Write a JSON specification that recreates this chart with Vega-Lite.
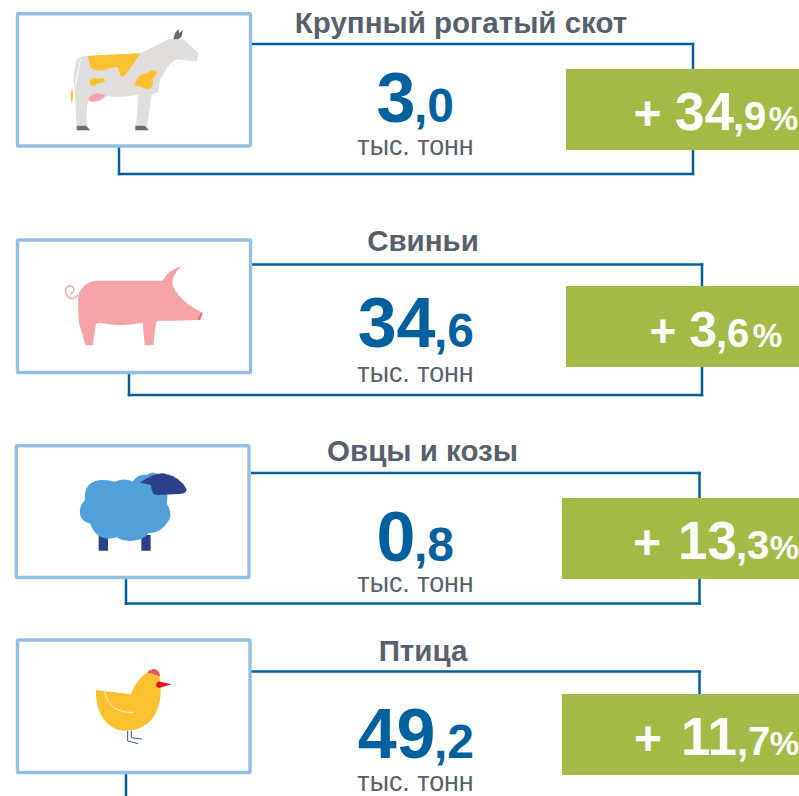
{"$schema":"https://vega.github.io/schema/vega-lite/v6.json","width":799,"height":796,"padding":0,"autosize":{"type":"none"},"background":"#ffffff","config":{"view":{"stroke":null},"axis":{"disable":true},"text":{"baseline":"alphabetic","font":"Liberation Sans"}},
"data":{"values":[
{"category":"Крупный рогатый скот","tonnes":3.0,"change":34.9,"whole":"3","frac":",0","unit":"тыс. тонн","sign":"+","chWhole":"34","chFrac":",9","pct":"%"},
{"category":"Свиньи","tonnes":34.6,"change":3.6,"whole":"34","frac":",6","unit":"тыс. тонн","sign":"+","chWhole":"3","chFrac":",6","pct":"%"},
{"category":"Овцы и козы","tonnes":0.8,"change":13.3,"whole":"0","frac":",8","unit":"тыс. тонн","sign":"+","chWhole":"13","chFrac":",3","pct":"%"},
{"category":"Птица","tonnes":49.2,"change":11.7,"whole":"49","frac":",2","unit":"тыс. тонн","sign":"+","chWhole":"11","chFrac":",7","pct":"%"}]},
"layer":[
{"mark":{"type":"rule","opacity":0},"encoding":{"x":{"datum":0,"type":"quantitative","scale":{"domain":[0,799],"nice":false,"zero":false}},"y":{"datum":0,"type":"quantitative","scale":{"domain":[0,796],"nice":false,"zero":false,"reverse":true}}}},
{"transform":[{"filter":"datum.category==='Крупный рогатый скот'"}],"layer":[
{"mark":{"type":"rule","color":"#00619E","strokeWidth":2.5,"strokeCap":"square"},"encoding":{"x":{"datum":252},"x2":{"datum":693},"y":{"datum":44}}},
{"mark":{"type":"rule","color":"#00619E","strokeWidth":2.5,"strokeCap":"square"},"encoding":{"x":{"datum":693},"y":{"datum":44},"y2":{"datum":174}}},
{"mark":{"type":"rule","color":"#00619E","strokeWidth":2.5,"strokeCap":"square"},"encoding":{"x":{"datum":119},"x2":{"datum":693},"y":{"datum":174}}},
{"mark":{"type":"rule","color":"#00619E","strokeWidth":2.5,"strokeCap":"square"},"encoding":{"x":{"datum":119},"y":{"datum":148},"y2":{"datum":174}}},
{"mark":{"type":"rect","fill":"#ffffff","stroke":"#95BEE3","strokeWidth":3.4,"cornerRadius":1},"encoding":{"x":{"datum":17.5},"x2":{"datum":250.5},"y":{"datum":13.7},"y2":{"datum":146}}},
{"mark":{"type":"rect","fill":"#A3BA47"},"encoding":{"x":{"datum":566},"x2":{"datum":799},"y":{"datum":69},"y2":{"datum":150}}},
{"mark":{"type":"point","filled":true,"fill":"#DFDEDC","opacity":1,"strokeWidth":0,"size":0.4444,"shape":"M200,165 Q205,153 235,152 L392,145 L475,103 L490,103 L520,103 L565,145 L560,170 L500,163 Q480,175 470,190 L450,225 L445,262 L425,268 L412,362 L378,362 L385,270 Q310,280 290,272 L240,270 L232,300 L228,362 L200,362 L195,270 L190,210 Z"},"encoding":{"x":{"datum":10},"y":{"datum":5}}},
{"mark":{"type":"point","filled":true,"fill":"#FDC02F","opacity":1,"strokeWidth":0,"size":0.4444,"shape":"M234,153 L392,145 L350,205 Q340,218 332,215 L325,190 Q310,182 285,195 Q250,200 240,185 Z M240,225 Q250,215 262,222 Q280,215 286,225 Q282,235 262,236 Q250,248 240,240 Z M372,240 Q385,205 410,205 Q430,190 441,200 Q440,212 428,222 Q432,245 415,254 Q395,245 372,240 Z M186,250 Q192,265 186,297 Q178,280 186,250 Z"},"encoding":{"x":{"datum":10},"y":{"datum":5}}},
{"mark":{"type":"point","filled":true,"fill":"#F4A5AC","opacity":1,"strokeWidth":0,"size":0.4444,"shape":"M234,285 Q240,265 262,265 Q280,268 288,272 Q270,292 245,290 Z"},"encoding":{"x":{"datum":10},"y":{"datum":5}}},
{"mark":{"type":"point","filled":true,"fill":"#6A6A68","opacity":1,"strokeWidth":0,"size":0.4444,"shape":"M200,362 L228,362 L241,376 L200,376 Z M376,362 L405,362 L417,376 L376,376 Z M490,103 L495,85 L505,72 L508,84 L518,75 L515,95 L505,103 Z"},"encoding":{"x":{"datum":10},"y":{"datum":5}}},
{"mark":{"type":"point","filled":false,"fill":"transparent","stroke":"#ffffff","opacity":1,"strokeWidth":1,"size":0.4444,"shape":"M212,162 L195,245"},"encoding":{"x":{"datum":10},"y":{"datum":5}}},
{"mark":{"type":"text","fontWeight":"bold","fontSize":29.5,"color":"#58606B"},"encoding":{"x":{"datum":461},"y":{"datum":33},"text":{"field":"category"}}},
{"mark":{"type":"text","fontWeight":"bold","fontSize":70,"color":"#00619E","align":"right"},"encoding":{"x":{"datum":415.5},"y":{"datum":122},"text":{"field":"whole"}}},
{"mark":{"type":"text","fontWeight":"bold","fontSize":48,"color":"#00619E","align":"left"},"encoding":{"x":{"datum":414},"y":{"datum":122},"text":{"field":"frac"}}},
{"mark":{"type":"text","fontSize":26.8,"color":"#58606B"},"encoding":{"x":{"datum":415.5},"y":{"datum":155},"text":{"field":"unit"}}},
{"mark":{"type":"text","fontWeight":"bold","fontSize":48,"color":"#ffffff","align":"center"},"encoding":{"x":{"datum":647.5},"y":{"datum":130},"text":{"field":"sign"}}},
{"mark":{"type":"text","fontWeight":"bold","fontSize":53,"color":"#ffffff","align":"right"},"encoding":{"x":{"datum":734},"y":{"datum":130},"text":{"field":"chWhole"}}},
{"mark":{"type":"text","fontWeight":"bold","fontSize":40,"color":"#ffffff","align":"left"},"encoding":{"x":{"datum":733},"y":{"datum":130},"text":{"field":"chFrac"}}},
{"mark":{"type":"text","fontWeight":"bold","fontSize":33,"color":"#ffffff","align":"right"},"encoding":{"x":{"datum":798},"y":{"datum":130},"text":{"field":"pct"}}}
]},
{"transform":[{"filter":"datum.category==='Свиньи'"}],"layer":[
{"mark":{"type":"rule","color":"#00619E","strokeWidth":2.5,"strokeCap":"square"},"encoding":{"x":{"datum":252},"x2":{"datum":702},"y":{"datum":264.5}}},
{"mark":{"type":"rule","color":"#00619E","strokeWidth":2.5,"strokeCap":"square"},"encoding":{"x":{"datum":702},"y":{"datum":264.5},"y2":{"datum":395}}},
{"mark":{"type":"rule","color":"#00619E","strokeWidth":2.5,"strokeCap":"square"},"encoding":{"x":{"datum":129},"x2":{"datum":702},"y":{"datum":395}}},
{"mark":{"type":"rule","color":"#00619E","strokeWidth":2.5,"strokeCap":"square"},"encoding":{"x":{"datum":129},"y":{"datum":374},"y2":{"datum":395}}},
{"mark":{"type":"rect","fill":"#ffffff","stroke":"#95BEE3","strokeWidth":3.4,"cornerRadius":1},"encoding":{"x":{"datum":17.5},"x2":{"datum":250.5},"y":{"datum":240},"y2":{"datum":372.5}}},
{"mark":{"type":"rect","fill":"#A3BA47"},"encoding":{"x":{"datum":566},"x2":{"datum":799},"y":{"datum":286},"y2":{"datum":367}}},
{"mark":{"type":"point","filled":false,"fill":"transparent","stroke":"#F5A3A6","opacity":1,"strokeWidth":1.4,"size":0.4444,"shape":"M205,195 Q185,215 172,198 Q160,180 175,168 Q190,165 192,180 Q190,192 180,190"},"encoding":{"x":{"datum":10},"y":{"datum":230}}},
{"mark":{"type":"point","filled":true,"fill":"#F5A3A6","opacity":1,"strokeWidth":0,"size":0.4444,"shape":"M205,195 Q220,155 260,152 L458,152 Q475,120 514,108 Q480,140 490,170 Q510,215 578,248 L570,270 Q520,272 445,272 L438,276 L430,346 L404,346 L398,278 Q330,292 270,278 L258,282 L248,346 L227,346 L207,280 Q203,240 205,195 Z"},"encoding":{"x":{"datum":10},"y":{"datum":230}}},
{"mark":{"type":"point","filled":true,"fill":"#EC6A72","opacity":1,"strokeWidth":0,"size":0.4444,"shape":"M573,249 L578,249 L570,270 L562,268 Z"},"encoding":{"x":{"datum":10},"y":{"datum":230}}},
{"mark":{"type":"text","fontWeight":"bold","fontSize":29.5,"color":"#58606B"},"encoding":{"x":{"datum":423},"y":{"datum":251},"text":{"field":"category"}}},
{"mark":{"type":"text","fontWeight":"bold","fontSize":70,"color":"#00619E","align":"right"},"encoding":{"x":{"datum":435.5},"y":{"datum":347},"text":{"field":"whole"}}},
{"mark":{"type":"text","fontWeight":"bold","fontSize":48,"color":"#00619E","align":"left"},"encoding":{"x":{"datum":434},"y":{"datum":347},"text":{"field":"frac"}}},
{"mark":{"type":"text","fontSize":26.8,"color":"#58606B"},"encoding":{"x":{"datum":415.5},"y":{"datum":382},"text":{"field":"unit"}}},
{"mark":{"type":"text","fontWeight":"bold","fontSize":46,"color":"#ffffff","align":"center"},"encoding":{"x":{"datum":663},"y":{"datum":347},"text":{"field":"sign"}}},
{"mark":{"type":"text","fontWeight":"bold","fontSize":50,"color":"#ffffff","align":"right"},"encoding":{"x":{"datum":717},"y":{"datum":347},"text":{"field":"chWhole"}}},
{"mark":{"type":"text","fontWeight":"bold","fontSize":40,"color":"#ffffff","align":"left"},"encoding":{"x":{"datum":716},"y":{"datum":347},"text":{"field":"chFrac"}}},
{"mark":{"type":"text","fontWeight":"bold","fontSize":33,"color":"#ffffff","align":"right"},"encoding":{"x":{"datum":782},"y":{"datum":347},"text":{"field":"pct"}}}
]},
{"transform":[{"filter":"datum.category==='Овцы и козы'"}],"layer":[
{"mark":{"type":"rule","color":"#00619E","strokeWidth":2.5,"strokeCap":"square"},"encoding":{"x":{"datum":252},"x2":{"datum":699.5},"y":{"datum":473}}},
{"mark":{"type":"rule","color":"#00619E","strokeWidth":2.5,"strokeCap":"square"},"encoding":{"x":{"datum":699.5},"y":{"datum":473},"y2":{"datum":603.5}}},
{"mark":{"type":"rule","color":"#00619E","strokeWidth":2.5,"strokeCap":"square"},"encoding":{"x":{"datum":126},"x2":{"datum":699.5},"y":{"datum":603.5}}},
{"mark":{"type":"rule","color":"#00619E","strokeWidth":2.5,"strokeCap":"square"},"encoding":{"x":{"datum":126},"y":{"datum":579},"y2":{"datum":603.5}}},
{"mark":{"type":"rect","fill":"#ffffff","stroke":"#95BEE3","strokeWidth":3.4,"cornerRadius":1},"encoding":{"x":{"datum":16.3},"x2":{"datum":249},"y":{"datum":445.7},"y2":{"datum":577.5}}},
{"mark":{"type":"rect","fill":"#A3BA47"},"encoding":{"x":{"datum":562},"x2":{"datum":799},"y":{"datum":498},"y2":{"datum":579}}},
{"mark":{"type":"point","filled":true,"fill":"#2B4189","opacity":1,"strokeWidth":0,"size":0.4444,"shape":"M266,285 L294,285 L294,332 L266,332 Z M394,285 L422,285 L422,332 L394,332 Z"},"encoding":{"x":{"datum":10},"y":{"datum":440}}},
{"mark":{"type":"point","filled":true,"fill":"#52A0DA","opacity":1,"strokeWidth":0,"size":0.4444,"shape":"M225,180 C220,135 250,118 280,120 Q300,120 315,125 Q345,112 368,125 Q385,100 410,105 Q430,90 445,105 C475,130 475,165 470,190 C485,215 485,235 470,250 C455,272 435,280 415,280 C400,305 345,310 320,292 C290,302 255,295 240,250 C205,245 200,205 225,180 Z"},"encoding":{"x":{"datum":10},"y":{"datum":440}}},
{"mark":{"type":"point","filled":true,"fill":"#2B4189","opacity":1,"strokeWidth":0,"size":0.4444,"shape":"M390,128 Q430,100 460,100 Q510,110 530,148 Q530,160 510,162 L440,165 Q425,165 423,135 Z"},"encoding":{"x":{"datum":10},"y":{"datum":440}}},
{"mark":{"type":"text","fontWeight":"bold","fontSize":29.5,"color":"#58606B"},"encoding":{"x":{"datum":422.5},"y":{"datum":461},"text":{"field":"category"}}},
{"mark":{"type":"text","fontWeight":"bold","fontSize":70,"color":"#00619E","align":"right"},"encoding":{"x":{"datum":415.5},"y":{"datum":561},"text":{"field":"whole"}}},
{"mark":{"type":"text","fontWeight":"bold","fontSize":48,"color":"#00619E","align":"left"},"encoding":{"x":{"datum":414},"y":{"datum":561},"text":{"field":"frac"}}},
{"mark":{"type":"text","fontSize":26.8,"color":"#58606B"},"encoding":{"x":{"datum":415.5},"y":{"datum":592},"text":{"field":"unit"}}},
{"mark":{"type":"text","fontWeight":"bold","fontSize":48,"color":"#ffffff","align":"center"},"encoding":{"x":{"datum":647},"y":{"datum":559},"text":{"field":"sign"}}},
{"mark":{"type":"text","fontWeight":"bold","fontSize":53,"color":"#ffffff","align":"right"},"encoding":{"x":{"datum":737},"y":{"datum":559},"text":{"field":"chWhole"}}},
{"mark":{"type":"text","fontWeight":"bold","fontSize":40,"color":"#ffffff","align":"left"},"encoding":{"x":{"datum":736},"y":{"datum":559},"text":{"field":"chFrac"}}},
{"mark":{"type":"text","fontWeight":"bold","fontSize":33,"color":"#ffffff","align":"right"},"encoding":{"x":{"datum":799},"y":{"datum":559},"text":{"field":"pct"}}}
]},
{"transform":[{"filter":"datum.category==='Птица'"}],"layer":[
{"mark":{"type":"rule","color":"#00619E","strokeWidth":2.5,"strokeCap":"square"},"encoding":{"x":{"datum":252},"x2":{"datum":699.5},"y":{"datum":671.5}}},
{"mark":{"type":"rule","color":"#00619E","strokeWidth":2.5,"strokeCap":"square"},"encoding":{"x":{"datum":699.5},"y":{"datum":671.5},"y2":{"datum":694}}},
{"mark":{"type":"rule","color":"#00619E","strokeWidth":2.5},"encoding":{"x":{"datum":126},"y":{"datum":774},"y2":{"datum":796}}},
{"mark":{"type":"rect","fill":"#ffffff","stroke":"#95BEE3","strokeWidth":3.4,"cornerRadius":1},"encoding":{"x":{"datum":17.5},"x2":{"datum":250},"y":{"datum":640},"y2":{"datum":772.5}}},
{"mark":{"type":"rect","fill":"#A3BA47"},"encoding":{"x":{"datum":562},"x2":{"datum":799},"y":{"datum":694},"y2":{"datum":775}}},
{"mark":{"type":"point","filled":false,"fill":"transparent","stroke":"#3C5296","opacity":1,"strokeWidth":1,"size":0.4444,"shape":"M353,287 L353,318 L384,326 M364,287 L364,308 L395,312"},"encoding":{"x":{"datum":10},"y":{"datum":635}}},
{"mark":{"type":"point","filled":true,"fill":"#FDC02F","opacity":1,"strokeWidth":0,"size":0.4444,"shape":"M258,165 L362,178 C375,150 395,115 420,112 C445,112 452,130 452,150 C456,210 435,287 345,287 C290,287 255,230 258,165 Z"},"encoding":{"x":{"datum":10},"y":{"datum":635}}},
{"mark":{"type":"point","filled":true,"fill":"#E9585E","opacity":1,"strokeWidth":0,"size":0.4444,"shape":"M412,115 Q415,103 425,104 Q432,98 440,105 Q450,110 450,125 L425,115 Z"},"encoding":{"x":{"datum":10},"y":{"datum":635}}},
{"mark":{"type":"point","filled":true,"fill":"#E30D1B","opacity":1,"strokeWidth":0,"size":0.4444,"shape":"M438,150 Q442,138 450,140 L485,148 L450,158 Q440,160 438,150 Z"},"encoding":{"x":{"datum":10},"y":{"datum":635}}},
{"mark":{"type":"point","filled":false,"fill":"transparent","stroke":"#FFF3CF","opacity":1,"strokeWidth":1,"size":0.4444,"shape":"M284,168 Q295,235 372,232"},"encoding":{"x":{"datum":10},"y":{"datum":635}}},
{"mark":{"type":"text","fontWeight":"bold","fontSize":29.5,"color":"#58606B"},"encoding":{"x":{"datum":423},"y":{"datum":661},"text":{"field":"category"}}},
{"mark":{"type":"text","fontWeight":"bold","fontSize":70,"color":"#00619E","align":"right"},"encoding":{"x":{"datum":435.5},"y":{"datum":758},"text":{"field":"whole"}}},
{"mark":{"type":"text","fontWeight":"bold","fontSize":48,"color":"#00619E","align":"left"},"encoding":{"x":{"datum":434},"y":{"datum":758},"text":{"field":"frac"}}},
{"mark":{"type":"text","fontSize":26.8,"color":"#58606B"},"encoding":{"x":{"datum":415.5},"y":{"datum":791},"text":{"field":"unit"}}},
{"mark":{"type":"text","fontWeight":"bold","fontSize":48,"color":"#ffffff","align":"center"},"encoding":{"x":{"datum":648},"y":{"datum":755},"text":{"field":"sign"}}},
{"mark":{"type":"text","fontWeight":"bold","fontSize":53,"color":"#ffffff","align":"right"},"encoding":{"x":{"datum":737},"y":{"datum":755},"text":{"field":"chWhole"}}},
{"mark":{"type":"text","fontWeight":"bold","fontSize":40,"color":"#ffffff","align":"left"},"encoding":{"x":{"datum":737},"y":{"datum":755},"text":{"field":"chFrac"}}},
{"mark":{"type":"text","fontWeight":"bold","fontSize":33,"color":"#ffffff","align":"right"},"encoding":{"x":{"datum":799},"y":{"datum":755},"text":{"field":"pct"}}}
]}
]}
